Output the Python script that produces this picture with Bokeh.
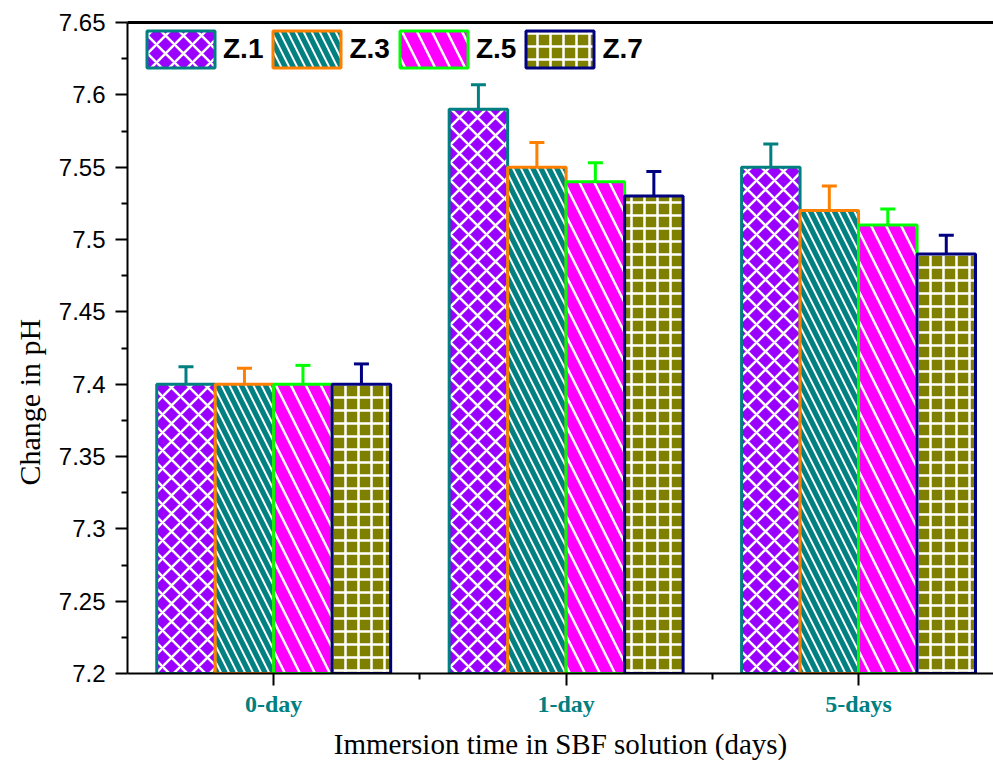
from bokeh.plotting import figure
from bokeh.models import (ColumnDataSource, Range1d, FixedTicker, CustomJSTickFormatter,
                          LinearAxis, Whisker, TeeHead, Legend, LegendItem, Title)
from bokeh.transform import dodge
from bokeh.embed import file_html
from bokeh.resources import INLINE

# ---- data ----
categories = ["0-day", "1-day", "5-days"]
series = ["Z.1", "Z.3", "Z.5", "Z.7"]
z1 = [7.40, 7.59, 7.55]
z3 = [7.40, 7.55, 7.52]
z5 = [7.40, 7.54, 7.51]
z7 = [7.40, 7.53, 7.49]
z1_err = [0.012, 0.017, 0.016]
z3_err = [0.011, 0.017, 0.017]
z5_err = [0.013, 0.013, 0.011]
z7_err = [0.014, 0.017, 0.013]
y_ticks = [7.2, 7.25, 7.3, 7.35, 7.4, 7.45, 7.5, 7.55, 7.6, 7.65]
y_minor = [7.225, 7.275, 7.325, 7.375, 7.425, 7.475, 7.525, 7.575, 7.625]

values = [z1, z3, z5, z7]
errors = [z1_err, z3_err, z5_err, z7_err]

# ---- styles ----
fills = ["#9900FF", "#008080", "#FF00FF", "#808000"]
edges = ["#008080", "#FF8000", "#00FF00", "#000080"]
hatches = ["diagonal_cross", "left_diagonal_line", "left_diagonal_line", "cross"]
hscales = [18, 16, 30, 13]
hweights = [2.5, 2, 2.5, 2.5]
offsets = [-0.3, -0.1, 0.1, 0.3]
bar_w = 0.2

xi = list(range(len(categories)))
data = dict(xi=xi)
for k, (v, e) in enumerate(zip(values, errors)):
    data[f"v{k}"] = v
    data[f"up{k}"] = [a + b for a, b in zip(v, e)]
    data[f"lo{k}"] = [a - b for a, b in zip(v, e)]
src = ColumnDataSource(data)

p = figure(width=993, height=763, x_range=Range1d(-0.5, 2.4615), y_range=Range1d(7.2, 7.65),
           output_backend="svg", toolbar_location=None,
           min_border_left=127, min_border_right=0, min_border_top=22, min_border_bottom=90)
p.xgrid.visible = False
p.ygrid.visible = False
p.outline_line_color = None
p.background_fill_color = "white"
p.border_fill_color = "white"

renderers = []
for k in range(4):
    r = p.vbar(x=dodge("xi", offsets[k]), top=f"v{k}", bottom=0, width=bar_w, source=src,
               fill_color=fills[k], line_color=edges[k], line_width=3,
               hatch_pattern=hatches[k], hatch_color="white", hatch_scale=hscales[k],
               hatch_weight=hweights[k])
    renderers.append(r)

for k in range(4):
    w = Whisker(source=src, base=dodge("xi", offsets[k]), upper=f"up{k}", lower=f"lo{k}",
                line_color=edges[k], line_width=3,
                upper_head=TeeHead(size=15, line_color=edges[k], line_width=3),
                lower_head=TeeHead(size=15, line_color=edges[k], line_width=3))
    p.add_layout(w)

# x axis
xa = p.xaxis[0]
xa.ticker = FixedTicker(ticks=xi, minor_ticks=[0.5, 1.5, 2.5])
xa.major_label_overrides = {i: c for i, c in zip(xi, categories)}
xa.major_label_text_font = "Liberation Serif"
xa.major_label_text_font_style = "bold"
xa.major_label_text_font_size = "24px"
xa.major_label_text_color = "#008080"
xa.major_label_standoff = 5
xa.axis_label = "Immersion time in SBF solution (days)"
xa.axis_label_text_font = "Liberation Serif"
xa.axis_label_text_font_style = "normal"
xa.axis_label_text_font_size = "29px"
xa.axis_label_text_color = "black"
xa.axis_label_standoff = 8

# y axis
ya = p.yaxis[0]
ya.ticker = FixedTicker(ticks=y_ticks, minor_ticks=y_minor)
ya.formatter = CustomJSTickFormatter(code="return Number(tick.toFixed(2)).toString();")
ya.major_label_text_font = "Liberation Sans"
ya.major_label_text_font_size = "24px"
ya.major_label_text_color = "black"
ya.major_label_standoff = 10

ytitle = Title(text="Change in pH", align="left", offset=188, standoff=19,
               text_font="Liberation Serif", text_font_size="30px",
               text_font_style="normal", text_color="black")
p.add_layout(ytitle, "left")

for ax in (xa, ya):
    ax.axis_line_width = 2
    ax.axis_line_color = "black"
    ax.major_tick_line_width = 2
    ax.minor_tick_line_width = 2
    ax.major_tick_line_color = "black"
    ax.minor_tick_line_color = "black"
    ax.major_tick_in = 0
    ax.major_tick_out = 12
    ax.minor_tick_in = 0
    ax.minor_tick_out = 6

top_ax = LinearAxis(ticker=FixedTicker(ticks=[]), major_label_text_font_size="0px",
                    major_tick_out=0, minor_tick_out=0, major_tick_in=0, minor_tick_in=0,
                    axis_line_width=3, axis_line_color="black")
p.add_layout(top_ax, "above")

legend = Legend(items=[LegendItem(label=s, renderers=[r]) for s, r in zip(series, renderers)],
                location=(11, 601), orientation="horizontal",
                glyph_width=85, glyph_height=46,
                label_text_font="Liberation Sans", label_text_font_style="bold",
                label_text_font_size="28px", label_text_color="black",
                label_standoff=0, spacing=1, padding=0, margin=0,
                border_line_alpha=0, background_fill_alpha=0)
p.add_layout(legend)

open("out.html", "w").write(file_html(p, INLINE))
